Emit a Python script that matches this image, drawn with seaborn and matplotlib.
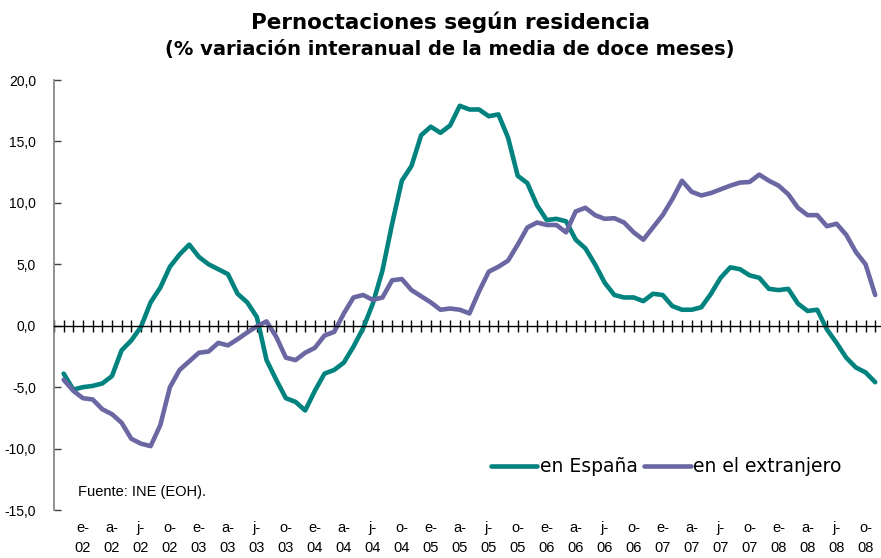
import numpy as np
import pandas as pd
import matplotlib
matplotlib.use("Agg")
import matplotlib.pyplot as plt
import matplotlib.transforms as mtransforms
from matplotlib.lines import Line2D
import seaborn as sns

# Months: index 1 = nov-01 ... 85 = nov-08
espana = [-3.9, -5.2, -5.0, -4.9, -4.7, -4.1, -2.0, -1.2, -0.1, 1.9,
          3.1, 4.8, 5.8, 6.6, 5.6, 5.0, 4.6, 4.2, 2.6, 1.9,
          0.7, -2.8, -4.4, -5.9, -6.2, -6.9, -5.3, -3.9, -3.6, -3.0,
          -1.7, -0.2, 1.8, 4.5, 8.3, 11.8, 13.0, 15.5, 16.2, 15.7,
          16.3, 17.9, 17.6, 17.6, 17.05, 17.2, 15.3, 12.2, 11.6, 9.8,
          8.6, 8.7, 8.5, 7.0, 6.3, 5.0, 3.5, 2.5, 2.3, 2.3,
          2.0, 2.6, 2.5, 1.6, 1.3, 1.3, 1.5, 2.6, 3.9, 4.75,
          4.6, 4.1, 3.9, 3.0, 2.9, 3.0, 1.8, 1.2, 1.3, -0.3,
          -1.4, -2.6, -3.4, -3.8, -4.6]
extranjero = [-4.4, -5.3, -5.9, -6.0, -6.8, -7.2, -7.9, -9.2, -9.6, -9.8,
              -8.1, -5.0, -3.6, -2.9, -2.2, -2.1, -1.4, -1.6, -1.1, -0.55,
              -0.05, 0.35, -0.9, -2.6, -2.8, -2.2, -1.8, -0.8, -0.5, 1.0,
              2.3, 2.5, 2.1, 2.3, 3.7, 3.8, 2.9, 2.4, 1.9, 1.3,
              1.4, 1.3, 1.0, 2.8, 4.4, 4.8, 5.3, 6.6, 8.0, 8.4,
              8.2, 8.2, 7.6, 9.3, 9.6, 9.0, 8.7, 8.75, 8.4, 7.6,
              7.0, 8.0, 9.0, 10.3, 11.8, 10.9, 10.6, 10.8, 11.1, 11.4,
              11.65, 11.7, 12.3, 11.8, 11.4, 10.7, 9.6, 9.0, 9.0, 8.1,
              8.3, 7.4, 6.0, 5.0, 2.5]
series_names = ["en España", "en el extranjero"]
tick_months = ["e-\n02", "a-\n02", "j-\n02", "o-\n02",
               "e-\n03", "a-\n03", "j-\n03", "o-\n03",
               "e-\n04", "a-\n04", "j-\n04", "o-\n04",
               "e-\n05", "a-\n05", "j-\n05", "o-\n05",
               "e-\n06", "a-\n06", "j-\n06", "o-\n06",
               "e-\n07", "a-\n07", "j-\n07", "o-\n07",
               "e-\n08", "a-\n08", "j-\n08", "o-\n08"]
tick_pos = list(range(3, 85, 3))
y_ticks = [-15, -10, -5, 0, 5, 10, 15, 20]

months = np.arange(1, len(espana) + 1)
df = pd.DataFrame({
    "mes": np.concatenate([months, months]),
    "valor": espana + extranjero,
    "serie": [series_names[0]] * len(espana) + [series_names[1]] * len(extranjero),
})

sns.set_theme(style="white")
plt.rcParams["font.family"] = ["Liberation Sans", "DejaVu Sans"]
plt.rcParams["text.color"] = "black"

fig = plt.figure(figsize=(8.81, 5.58), dpi=100)
ax = fig.add_axes([54 / 881, 48 / 558, 827 / 881, 430 / 558])
colors = {"en España": "#00827f", "en el extranjero": "#6a67a3"}
sns.lineplot(data=df, x="mes", y="valor", hue="serie", hue_order=series_names,
             palette=colors, linewidth=3.3, ax=ax, legend=False)
for ln in ax.lines:
    ln.set_solid_capstyle("round")
    ln.set_solid_joinstyle("round")
ax.set_xlim(0, 85.6)
ax.set_ylim(-15, 20)
ax.set_xlabel("")
ax.set_ylabel("")

for s in ["top", "right"]:
    ax.spines[s].set_visible(False)
ax.spines["left"].set_color("#808080")
ax.spines["left"].set_linewidth(1.2)
ax.spines["bottom"].set_position(("data", 0))
ax.spines["bottom"].set_color("#000000")
ax.spines["bottom"].set_linewidth(1.0)

ax.set_xticks(np.arange(0, 86, 1))
ax.tick_params(axis="x", direction="inout", length=9, width=1.0, color="black",
               labelbottom=False, bottom=True)
ax.set_yticks(y_ticks)
ax.set_yticklabels([f"{v:.1f}".replace(".", ",") for v in y_ticks],
                   fontsize=10, color="black")
ax.tick_params(axis="y", direction="in", length=5, width=1.0, color="#404040",
               left=True, pad=13)

trans = mtransforms.blended_transform_factory(ax.transData, ax.transAxes)
for p, lab in zip(tick_pos, tick_months):
    ax.text(p, -0.025, lab, transform=trans, ha="center", va="top",
            fontsize=10.5, linespacing=1.55, color="black")

ax.text(24 / 827, (510 - 492) / 430, "Fuente: INE (EOH).", transform=ax.transAxes,
        fontsize=10.5, va="center", ha="left", color="black")

handles = [Line2D([0], [0], color=colors[n], lw=3.3, solid_capstyle="round") for n in series_names]
leg = ax.legend(handles, series_names, loc="center left",
                bbox_to_anchor=((483 - 54) / 827, (510 - 467) / 430),
                frameon=False, ncol=2, handlelength=2.5, handletextpad=0.15,
                columnspacing=0.3, borderaxespad=0,
                prop={"family": "DejaVu Sans", "size": 13.5})
for t in leg.get_texts():
    t.set_color("black")

fig.text(450 / 881, 1 - 22 / 558, "Pernoctaciones según residencia",
         ha="center", va="center", fontsize=15.5, fontweight="bold",
         family="DejaVu Sans", color="black")
fig.text(450 / 881, 1 - 50 / 558, "(% variación interanual de la media de doce meses)",
         ha="center", va="center", fontsize=14, fontweight="bold",
         family="DejaVu Sans", color="black")

fig.savefig("out.png", dpi=100, facecolor="white")
